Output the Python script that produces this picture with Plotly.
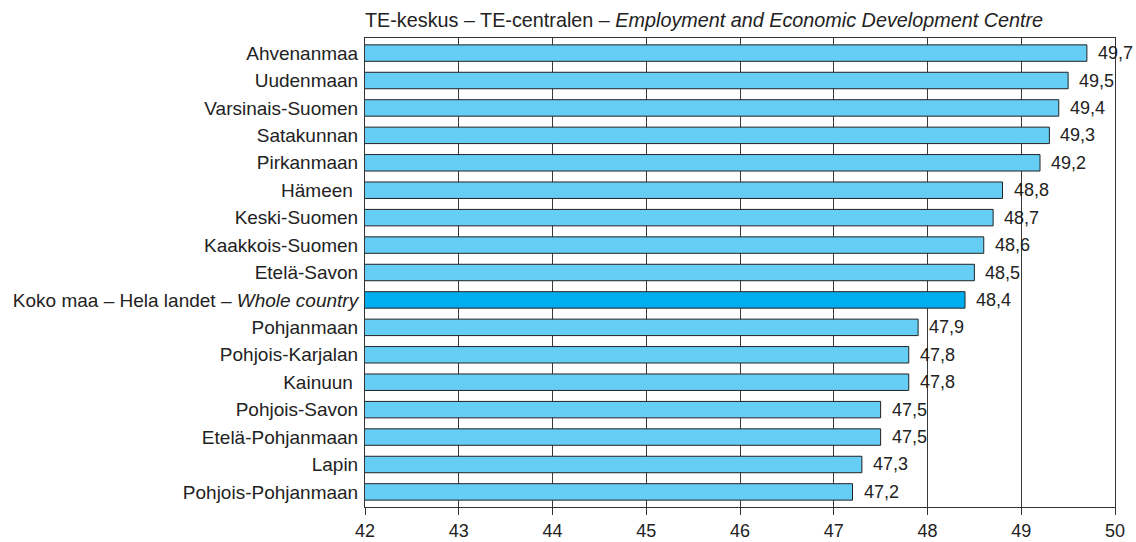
import plotly.graph_objects as go

categories = ["Ahvenanmaa", "Uudenmaan", "Varsinais-Suomen", "Satakunnan", "Pirkanmaan",
              "Hämeen\u00a0", "Keski-Suomen", "Kaakkois-Suomen", "Etelä-Savon",
              "Koko maa – Hela landet – <i>Whole country</i>", "Pohjanmaan", "Pohjois-Karjalan",
              "Kainuun\u00a0", "Pohjois-Savon", "Etelä-Pohjanmaan", "Lapin", "Pohjois-Pohjanmaan"]
values = [49.7, 49.5, 49.4, 49.3, 49.2, 48.8, 48.7, 48.6, 48.5, 48.4, 47.9, 47.8, 47.8,
          47.5, 47.5, 47.3, 47.2]
highlight = "Koko maa – Hela landet – <i>Whole country</i>"
tick_vals = [42, 43, 44, 45, 46, 47, 48, 49, 50]

FONT = "Liberation Sans, Arial, Helvetica, sans-serif"
TXT = "#222222"

colors = ["#00AEEF" if c == highlight else "#66CDF5" for c in categories]
labels = [f"{v:.1f}".replace(".", ",") for v in values]

fig = go.Figure(go.Bar(
    x=values, y=categories, orientation="h", base=0,
    marker=dict(color=colors, line=dict(color="#222222", width=1)),
    width=0.6,
))

annotations = [dict(x=v, y=c, xref="x", yref="y", text=t, xanchor="left", yanchor="middle",
                    xshift=9, showarrow=False, font=dict(size=18, color=TXT, family=FONT))
               for v, c, t in zip(values, categories, labels)]
annotations.append(dict(text="TE-keskus – TE-centralen – <i>Employment and Economic Development Centre</i>",
                        x=0, xref="paper", xanchor="left", y=1, yref="paper", yanchor="bottom",
                        xshift=-2, yshift=5, showarrow=False,
                        font=dict(size=19.8, color=TXT, family=FONT)))

fig.update_layout(
    width=1136, height=542,
    margin=dict(l=365, r=21, t=38, b=35),
    paper_bgcolor="white", plot_bgcolor="white",
    showlegend=False,
    font=dict(family=FONT, color=TXT, size=19),
    xaxis=dict(range=[42, 50], tickvals=tick_vals, showgrid=True, gridcolor="#3a3a3a",
               gridwidth=1, ticks="outside", ticklen=7, tickcolor="#333333",
               tickfont=dict(size=18), showline=True, linecolor="#333333", linewidth=1,
               mirror=True, zeroline=False, automargin=False),
    yaxis=dict(categoryorder="array", categoryarray=categories[::-1],
               autorange=False, range=[-0.55, 16.55],
               showline=True, linecolor="#333333", linewidth=1, mirror=True,
               ticks="", ticklabelstandoff=2, tickfont=dict(size=19), automargin=False),
    annotations=annotations,
)

fig.write_html("out.html", config={"displayModeBar": False},
               post_script="document.body.style.margin='0';document.body.style.overflow='hidden';")
